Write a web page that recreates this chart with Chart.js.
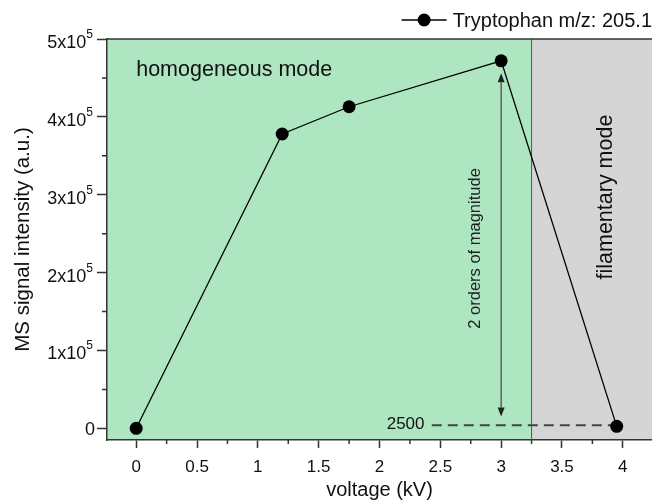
<!DOCTYPE html>
<html>
<head>
<meta charset="utf-8">
<script src="https://cdn.jsdelivr.net/npm/chart.js@4"></script>
<style>
    body { margin: 0; background: #fff; }
</style>
</head>
<body>
<canvas id="grafico" width="652" height="504"></canvas>
<script>
// dados
const voltage = [0, 1.2, 1.75, 3, 3.95];
const intensity = [0, 378000, 413000, 472000, 2500];

const xTicks = [0, 0.5, 1, 1.5, 2, 2.5, 3, 3.5, 4];
const xMinorTicks = [0.25, 0.75, 1.25, 1.75, 2.25, 2.75, 3.25, 3.75];
const yTicks = [0, 100000, 200000, 300000, 400000, 500000];
const yMinorTicks = [50000, 150000, 250000, 350000, 450000];
const yTickMantissa = ['0', '1x10', '2x10', '3x10', '4x10', '5x10'];
const yTickExponent = ['', '5', '5', '5', '5', '5'];

const modeBoundary = 3.25;
const seriesLabel = 'Tryptophan m/z: 205.1';
const lowValueLabel = '2500';

const FONTE = "'Liberation Sans', Arial, sans-serif";
const VERDE = '#aee6c2';
const CINZA = '#d5d5d5';
const EIXO = '#333333';

const canvas = document.getElementById('grafico');

function seta(ctx, x, y, dir) {
    // ponta de seta triangular, dir = -1 para cima, 1 para baixo
    ctx.beginPath();
    ctx.moveTo(x, y);
    ctx.lineTo(x - 3.5, y - dir * 9);
    ctx.lineTo(x + 3.5, y - dir * 9);
    ctx.closePath();
    ctx.fill();
}

function textoVertical(ctx, texto, x, y, fonte) {
    ctx.save();
    ctx.translate(x, y);
    ctx.rotate(-Math.PI / 2);
    ctx.font = fonte;
    ctx.textAlign = 'center';
    ctx.textBaseline = 'middle';
    ctx.fillText(texto, 0, 0);
    ctx.restore();
}

const pluginFundo = {
    id: 'fundo',
    beforeDraw(chart) {
        const { ctx, chartArea: a, scales: { x } } = chart;
        const xb = x.getPixelForValue(modeBoundary);
        ctx.save();
        ctx.fillStyle = VERDE;
        ctx.fillRect(a.left, a.top, xb - a.left, a.bottom - a.top);
        ctx.fillStyle = CINZA;
        ctx.fillRect(xb, a.top, a.right - xb, a.bottom - a.top);
        ctx.restore();
    },
    beforeDatasetsDraw(chart) {
        const { ctx, chartArea: a, scales: { x, y } } = chart;
        const xb = x.getPixelForValue(modeBoundary);
        ctx.save();

        // linha de fronteira entre os modos
        ctx.strokeStyle = '#555';
        ctx.lineWidth = 1;
        ctx.beginPath();
        ctx.moveTo(xb, a.top);
        ctx.lineTo(xb, a.bottom);
        ctx.stroke();

        // seta "2 orders of magnitude"
        const xs = x.getPixelForValue(voltage[3]);
        const yTop = y.getPixelForValue(452000);
        const yBot = y.getPixelForValue(19000);
        ctx.strokeStyle = '#444';
        ctx.fillStyle = '#222';
        ctx.lineWidth = 1.2;
        ctx.beginPath();
        ctx.moveTo(xs, yTop + 6);
        ctx.lineTo(xs, yBot - 6);
        ctx.stroke();
        seta(ctx, xs, yTop - 3, -1);
        seta(ctx, xs, yBot + 3, 1);

        // linha tracejada do valor 2500
        const yl = y.getPixelForValue(intensity[4]) - 1;
        ctx.strokeStyle = '#444';
        ctx.lineWidth = 2;
        ctx.setLineDash([10, 6]);
        ctx.beginPath();
        ctx.moveTo(x.getPixelForValue(2.43), yl);
        ctx.lineTo(x.getPixelForValue(voltage[4]) - 5, yl);
        ctx.stroke();
        ctx.setLineDash([]);

        ctx.fillStyle = '#111';
        ctx.font = '17px ' + FONTE;
        ctx.textAlign = 'right';
        ctx.textBaseline = 'middle';
        ctx.fillText(lowValueLabel, x.getPixelForValue(2.37), yl - 1);

        // textos dos modos
        ctx.font = '21.5px ' + FONTE;
        ctx.textAlign = 'left';
        ctx.textBaseline = 'alphabetic';
        ctx.fillText('homogeneous mode', x.getPixelForValue(0), y.getPixelForValue(452000));

        textoVertical(ctx, 'filamentary mode', x.getPixelForValue(3.86), y.getPixelForValue(297000), '21.5px ' + FONTE);
        ctx.fillStyle = '#222';
        textoVertical(ctx, '2 orders of magnitude', x.getPixelForValue(2.79), y.getPixelForValue(231000), '16.5px ' + FONTE);

        ctx.restore();
    },
    afterDraw(chart) {
        const { ctx, chartArea: a, scales: { x, y } } = chart;
        ctx.save();

        // borda superior
        ctx.strokeStyle = EIXO;
        ctx.lineWidth = 1.5;
        ctx.beginPath();
        ctx.moveTo(a.left, a.top);
        ctx.lineTo(a.right, a.top);
        ctx.stroke();

        // ticks menores
        ctx.lineWidth = 1.5;
        ctx.beginPath();
        xMinorTicks.forEach(v => {
            const px = x.getPixelForValue(v);
            ctx.moveTo(px, a.bottom);
            ctx.lineTo(px, a.bottom + 4);
        });
        yMinorTicks.forEach(v => {
            const py = y.getPixelForValue(v);
            ctx.moveTo(a.left, py);
            ctx.lineTo(a.left - 5, py);
        });
        ctx.stroke();

        // rotulos do eixo y com expoente
        ctx.fillStyle = '#111';
        ctx.textBaseline = 'alphabetic';
        const xr = a.left - 14;
        yTicks.forEach((v, i) => {
            const py = y.getPixelForValue(v);
            if (yTickExponent[i]) {
                ctx.font = '12px ' + FONTE;
                const w = ctx.measureText(yTickExponent[i]).width;
                ctx.textAlign = 'left';
                ctx.fillText(yTickExponent[i], xr - w, py - 1);
                ctx.font = '18px ' + FONTE;
                ctx.textAlign = 'right';
                ctx.fillText(yTickMantissa[i], xr - w, py + 9);
            } else {
                ctx.font = '18px ' + FONTE;
                ctx.textAlign = 'right';
                ctx.fillText(yTickMantissa[i], xr + 2, py + 7);
            }
        });

        // legenda
        ctx.font = '20px ' + FONTE;
        ctx.textAlign = 'right';
        ctx.textBaseline = 'middle';
        ctx.fillText(seriesLabel, a.right, 21);
        const tw = ctx.measureText(seriesLabel).width;
        const xl = a.right - tw - 6;
        ctx.strokeStyle = '#000';
        ctx.lineWidth = 1.3;
        ctx.beginPath();
        ctx.moveTo(xl - 45, 20);
        ctx.lineTo(xl, 20);
        ctx.stroke();
        ctx.fillStyle = '#000';
        ctx.beginPath();
        ctx.arc(xl - 22.5, 20, 6.5, 0, Math.PI * 2);
        ctx.fill();

        ctx.restore();
    }
};

new Chart(canvas, {
    type: 'scatter',
    data: {
        datasets: [{
            label: seriesLabel,
            data: voltage.map((v, i) => ({ x: v, y: intensity[i] })),
            showLine: true,
            borderColor: '#000',
            borderWidth: 1.3,
            pointBackgroundColor: '#000',
            pointBorderColor: '#000',
            pointRadius: 6.5,
            pointBorderWidth: 0
        }]
    },
    plugins: [pluginFundo],
    options: {
        responsive: false,
        animation: false,
        devicePixelRatio: 1,
        layout: { autoPadding: false, padding: { top: 39, left: 0, right: 0, bottom: 0 } },
        plugins: {
            legend: { display: false },
            tooltip: { enabled: false }
        },
        scales: {
            x: {
                type: 'linear',
                min: -0.24,
                max: 4.24,
                afterBuildTicks: (s) => { s.ticks = xTicks.map(v => ({ value: v })); },
                afterFit: (s) => { s.height = 64; },
                border: { display: true, color: EIXO, width: 1.5 },
                grid: { drawOnChartArea: false, drawTicks: true, tickLength: 8, tickColor: EIXO, tickWidth: 1.5 },
                ticks: {
                    color: '#111',
                    font: { family: FONTE, size: 17 },
                    padding: 9,
                    maxRotation: 0,
                    autoSkip: false,
                    callback: (v) => String(v)
                },
                title: {
                    display: true,
                    text: 'voltage (kV)',
                    color: '#111',
                    font: { family: FONTE, size: 20 },
                    padding: { top: 0, bottom: 2 }
                }
            },
            y: {
                type: 'linear',
                min: -15000,
                max: 500000,
                afterBuildTicks: (s) => { s.ticks = yTicks.map(v => ({ value: v })); },
                afterFit: (s) => { s.width = 107; },
                border: { display: true, color: EIXO, width: 1.5 },
                grid: { drawOnChartArea: false, drawTicks: true, tickLength: 10, tickColor: EIXO, tickWidth: 1.5 },
                ticks: { display: false },
                title: {
                    display: true,
                    text: 'MS signal intensity (a.u.)',
                    color: '#111',
                    font: { family: FONTE, size: 20.5 },
                    padding: { top: 11, bottom: 0 }
                }
            }
        }
    }
});
</script>
</body>
</html>
